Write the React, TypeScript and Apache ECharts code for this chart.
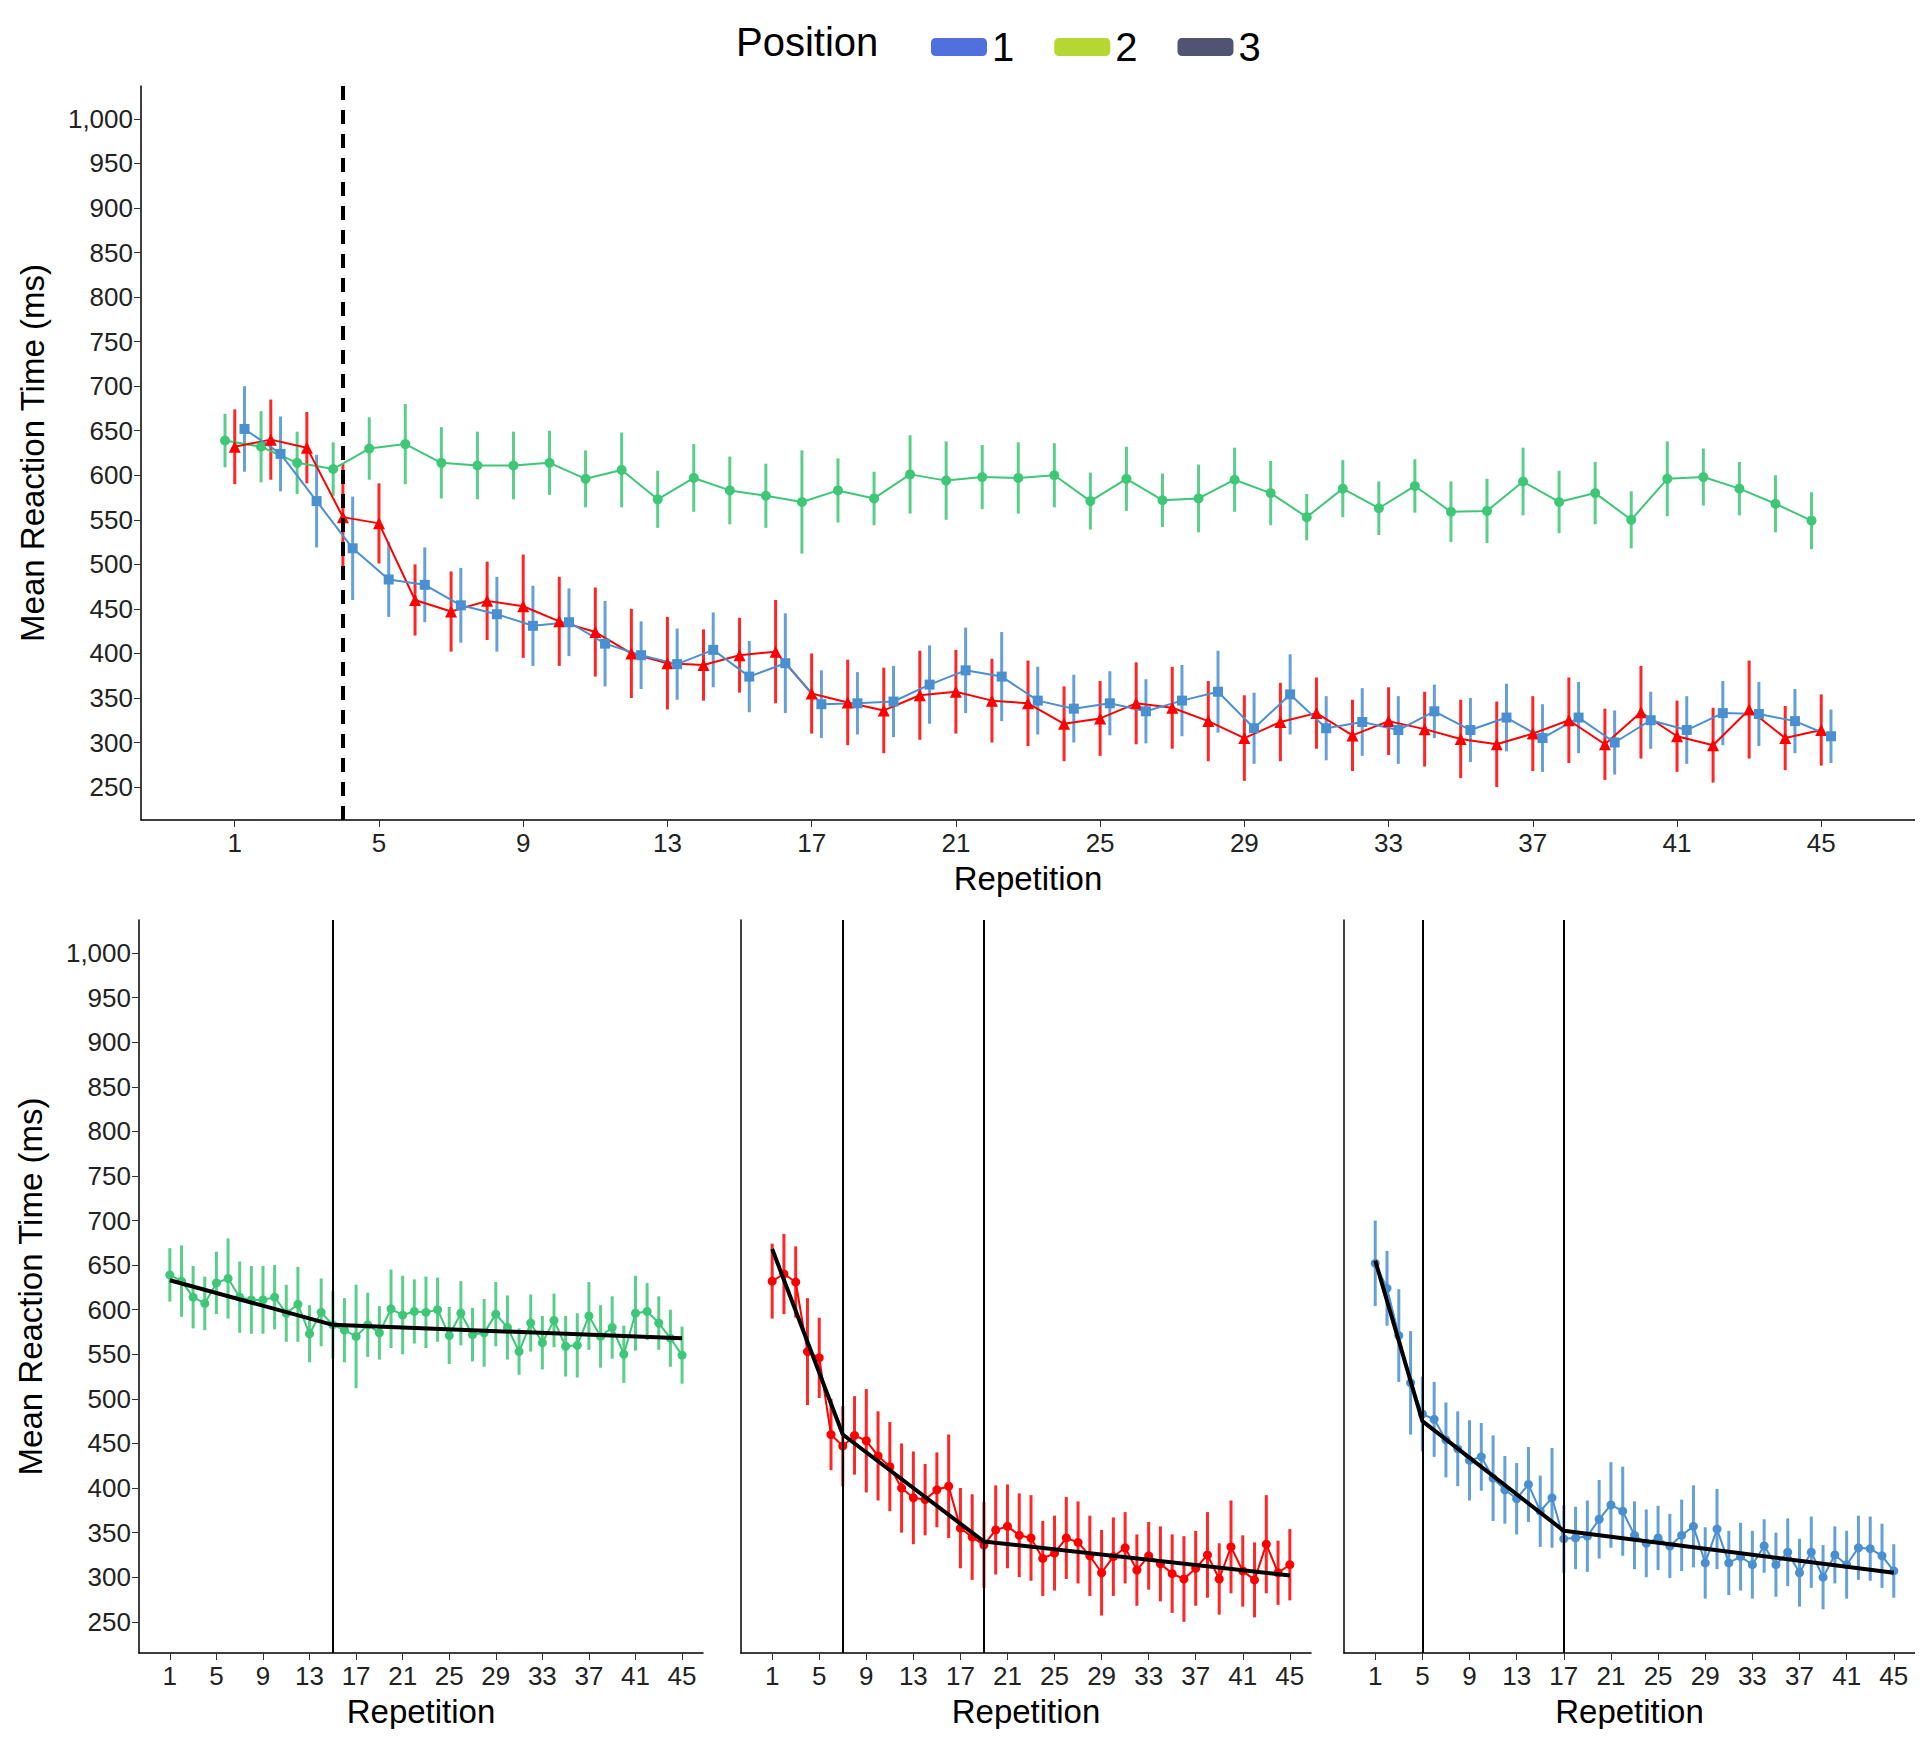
import { useRef, useEffect } from "react";
import * as echarts from "echarts";

// reps 1..45
const reps = Array.from({ length: 45 }, (_, i) => i + 1);

const pos1Mean = [639, 632, 614, 607, 630, 635, 614, 611, 611, 614, 596, 606, 573, 597, 583, 577, 570, 583, 574, 601, 594, 598, 597, 600, 571, 596, 572, 574, 595, 580, 553, 585, 563, 588, 559, 560, 593, 570, 580, 550, 596, 598, 585, 568, 549];
const pos1Err = [30, 40, 35, 30, 35, 45, 40, 38, 38, 36, 32, 42, 32, 38, 38, 36, 58, 36, 30, 44, 44, 36, 40, 36, 32, 36, 30, 38, 36, 36, 26, 32, 30, 30, 34, 36, 38, 35, 35, 32, 42, 32, 30, 32, 32];
const pos2Mean = [632, 640, 631, 553, 546, 460, 447, 459, 453, 436, 424, 400, 389, 387, 398, 402, 355, 345, 336, 353, 357, 347, 344, 321, 327, 344, 339, 324, 305, 323, 333, 308, 324, 315, 304, 298, 310, 325, 298, 334, 307, 297, 337, 305, 314];
const pos2Err = [42, 45, 40, 60, 45, 40, 45, 44, 58, 50, 50, 50, 52, 40, 42, 58, 45, 48, 48, 50, 47, 47, 48, 42, 42, 46, 46, 45, 48, 44, 40, 40, 38, 42, 44, 48, 42, 48, 40, 52, 40, 42, 55, 36, 40];
const pos3Mean = [652, 624, 571, 518, 483, 477, 454, 444, 431, 435, 411, 398, 388, 404, 374, 389, 343, 344, 346, 365, 381, 374, 347, 338, 344, 335, 347, 357, 316, 354, 316, 323, 314, 335, 314, 328, 305, 328, 300, 325, 314, 333, 332, 324, 307];
const pos3Err = [48, 42, 52, 58, 42, 42, 42, 42, 45, 38, 48, 38, 40, 42, 40, 56, 38, 35, 40, 44, 48, 50, 38, 38, 36, 36, 40, 46, 40, 45, 36, 38, 38, 30, 36, 38, 38, 40, 36, 32, 38, 36, 36, 36, 30];

// piecewise fits (rep, value)
const fit1 = [[1, 633], [15, 583], [45, 568]];
const fit2 = [[1, 668], [7, 460], [19, 340], [45, 302]];
const fit3 = [[1, 655], [5, 475], [17, 352], [45, 305]];
const breaks1 = [15];
const breaks2 = [7, 19];
const breaks3 = [5, 17];

const xTicks = [1, 5, 9, 13, 17, 21, 25, 29, 33, 37, 41, 45];
const yTicks = [250, 300, 350, 400, 450, 500, 550, 600, 650, 700, 750, 800, 850, 900, 950, 1000];

const GREEN = "#3dc776";
const RED = "#ff0000";
const BLUE = "#4a90d0";
const FONT = "Liberation Sans";

const App = () => {
  const chartRef = useRef<HTMLDivElement>(null);

  useEffect(() => {
    const chart = echarts.init(chartRef.current, null, { renderer: "svg" });

    const xAxisBase = (gridIndex: number, min: number, max: number, name: string) => ({
      type: "value",
      gridIndex,
      min,
      max,
      name,
      nameLocation: "middle",
      nameGap: 42,
      nameTextStyle: { fontSize: 33, color: "#000", fontFamily: FONT },
      splitLine: { show: false },
      axisLine: { show: true, onZero: false, lineStyle: { color: "#000", width: 1.5 } },
      axisTick: { show: true, customValues: xTicks, length: 7, lineStyle: { color: "#333" } },
      axisLabel: { customValues: xTicks, fontSize: 26, color: "#222", fontFamily: FONT, margin: 10 },
    });
    const yAxisBase = (gridIndex: number, min: number, max: number, showLabels: boolean) => ({
      type: "value",
      gridIndex,
      min,
      max,
      name: showLabels ? "Mean Reaction Time (ms)" : "",
      nameLocation: "middle",
      nameGap: 92,
      nameTextStyle: { fontSize: 33, color: "#000", fontFamily: FONT },
      splitLine: { show: false },
      axisLine: { show: true, onZero: false, lineStyle: { color: "#000", width: 1.5 } },
      axisTick: { show: showLabels, customValues: yTicks, length: 7, lineStyle: { color: "#333" } },
      axisLabel: { show: showLabels, customValues: yTicks, fontSize: 26, color: "#222", fontFamily: FONT },
    });

    const errSeries = (name: string, mean: number[], err: number[], color: string, offset: number, axis: number) => ({
      type: "custom",
      name,
      xAxisIndex: axis,
      yAxisIndex: axis,
      silent: true,
      z: 1,
      data: reps.map((r, i) => [r + offset, mean[i] - err[i], mean[i] + err[i]]),
      renderItem: (_p: any, api: any) => {
        const a = api.coord([api.value(0), api.value(1)]);
        const b = api.coord([api.value(0), api.value(2)]);
        return {
          type: "line",
          shape: { x1: a[0], y1: a[1], x2: b[0], y2: b[1] },
          style: { stroke: color, lineWidth: 3, opacity: 0.85 },
        };
      },
    });
    const lineSeries = (name: string, mean: number[], color: string, symbol: string, size: number, offset: number, axis: number) => ({
      type: "line",
      name,
      xAxisIndex: axis,
      yAxisIndex: axis,
      data: reps.map((r, i) => [r + offset, mean[i]]),
      symbol,
      symbolSize: size,
      itemStyle: { color },
      lineStyle: { color, width: 2 },
      z: 2,
    });
    const vLines = (xs: number[], axis: number, dashed: boolean) => ({
      type: "line",
      xAxisIndex: axis,
      yAxisIndex: axis,
      data: [],
      markLine: {
        silent: true,
        symbol: "none",
        label: { show: false },
        lineStyle: { color: "#000", width: dashed ? 4 : 2, type: dashed ? [14, 10] : "solid" },
        data: xs.map((x) => ({ xAxis: x })),
      },
    });
    const fitSeries = (data: number[][], axis: number) => ({
      type: "line",
      xAxisIndex: axis,
      yAxisIndex: axis,
      data,
      symbol: "none",
      lineStyle: { color: "#000", width: 4 },
      z: 5,
    });

    chart.setOption({
      animation: false,
      backgroundColor: "#fff",
      textStyle: { fontFamily: FONT },
      legend: {
        left: 918,
        top: 14,
        itemWidth: 56,
        itemHeight: 18,
        itemGap: 40,
        textStyle: { fontSize: 40, color: "#000", fontFamily: FONT },
        data: ["1", "2", "3"],
      },
      graphic: [
        {
          type: "text",
          left: 728,
          top: 14,
          style: { text: "Position", fontSize: 40, fill: "#000", fontFamily: FONT },
        },
      ],
      grid: [
        { left: 131, top: 78, width: 1776, height: 734 },
        { left: 131, top: 912, width: 564, height: 736 },
        { left: 733, top: 912, width: 570, height: 736 },
        { left: 1336, top: 912, width: 571, height: 736 },
      ],
      xAxis: [
        xAxisBase(0, -1.6, 47.6, "Repetition"),
        xAxisBase(1, -1.65, 46.8, "Repetition"),
        xAxisBase(2, -1.65, 46.8, "Repetition"),
        xAxisBase(3, -1.65, 46.8, "Repetition"),
      ],
      yAxis: [
        yAxisBase(0, 213, 1037, true),
        yAxisBase(1, 215, 1037, true),
        yAxisBase(2, 215, 1037, false),
        yAxisBase(3, 215, 1037, false),
      ],
      series: [
        errSeries("1", pos1Mean, pos1Err, GREEN, -0.27, 0),
        errSeries("2", pos2Mean, pos2Err, RED, 0, 0),
        errSeries("3", pos3Mean, pos3Err, BLUE, 0.27, 0),
        lineSeries("1", pos1Mean, GREEN, "circle", 10, -0.27, 0),
        lineSeries("2", pos2Mean, RED, "triangle", 12, 0, 0),
        lineSeries("3", pos3Mean, BLUE, "rect", 10, 0.27, 0),
        vLines([4], 0, true),
        errSeries("e1", pos1Mean, pos1Err, GREEN, 0, 1),
        lineSeries("p1", pos1Mean, GREEN, "circle", 9, 0, 1),
        vLines(breaks1, 1, false),
        fitSeries(fit1, 1),
        errSeries("e2", pos2Mean, pos2Err, RED, 0, 2),
        lineSeries("p2", pos2Mean, RED, "circle", 9, 0, 2),
        vLines(breaks2, 2, false),
        fitSeries(fit2, 2),
        errSeries("e3", pos3Mean, pos3Err, BLUE, 0, 3),
        lineSeries("p3", pos3Mean, BLUE, "circle", 9, 0, 3),
        vLines(breaks3, 3, false),
        fitSeries(fit3, 3),
      ],
    });

    return () => {
      chart.dispose();
    };
  }, []);

  return <div ref={chartRef} style={{ width: "1907px", height: "1721px" }}></div>;
};

export default App;
